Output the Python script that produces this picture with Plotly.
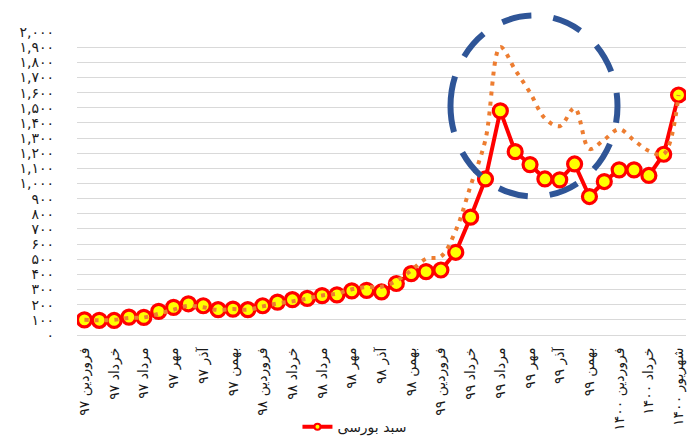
import plotly.graph_objects as go

# ---------------- data ----------------
categories = [
    "فروردین ۹۷", "اردیبهشت ۹۷", "خرداد ۹۷", "تیر ۹۷", "مرداد ۹۷", "شهریور ۹۷",
    "مهر ۹۷", "آبان ۹۷", "آذر ۹۷", "دی ۹۷", "بهمن ۹۷", "اسفند ۹۷",
    "فروردین ۹۸", "اردیبهشت ۹۸", "خرداد ۹۸", "تیر ۹۸", "مرداد ۹۸", "شهریور ۹۸",
    "مهر ۹۸", "آبان ۹۸", "آذر ۹۸", "دی ۹۸", "بهمن ۹۸", "اسفند ۹۸",
    "فروردین ۹۹", "اردیبهشت ۹۹", "خرداد ۹۹", "تیر ۹۹", "مرداد ۹۹", "شهریور ۹۹",
    "مهر ۹۹", "آبان ۹۹", "آذر ۹۹", "دی ۹۹", "بهمن ۹۹", "اسفند ۹۹",
    "فروردین ۱۴۰۰", "اردیبهشت ۱۴۰۰", "خرداد ۱۴۰۰", "مرداد ۱۴۰۰", "شهریور ۱۴۰۰",
]

portfolio = [100, 97, 96, 118, 116, 156, 182, 206, 193, 167, 171, 167,
             193, 217, 233, 242, 260, 265, 291, 295, 284, 340, 405, 418,
             429, 546, 778, 1030, 1479, 1210, 1125, 1030, 1024, 1129, 914, 1013,
             1090, 1090, 1053, 1193, 1584]

benchmark = [100, 97, 100, 112, 116, 140, 167, 192, 183, 165, 171, 167,
             189, 208, 222, 240, 261, 273, 302, 316, 318, 358, 426, 503,
             518, 690, 985, 1290, 1900, 1750, 1600, 1430, 1378, 1498, 1228, 1290,
             1358, 1285, 1215, 1195, 1584]

series_name = "سبد بورسی"

y_tickvals = list(range(0, 2001, 100))
y_ticktext = ["۰", "۱۰۰", "۲۰۰", "۳۰۰", "۴۰۰", "۵۰۰", "۶۰۰", "۷۰۰", "۸۰۰", "۹۰۰",
              "۱,۰۰۰", "۱,۱۰۰", "۱,۲۰۰", "۱,۳۰۰", "۱,۴۰۰", "۱,۵۰۰", "۱,۶۰۰",
              "۱,۷۰۰", "۱,۸۰۰", "۱,۹۰۰", "۲,۰۰۰"]

x_tickvals = categories[::2]

# ---------------- figure ----------------
W, H = 696, 443
ML, MR, MT, MB = 77, 10, 32, 108

fig = go.Figure()

fig.add_trace(go.Scatter(
    x=categories, y=portfolio, name=series_name, mode="lines+markers",
    line=dict(color="#FF0000", width=4),
    marker=dict(size=14, color="#FFFF00", line=dict(color="#FF0000", width=3.2)),
    showlegend=False,
))

fig.add_trace(go.Scatter(
    x=categories, y=benchmark, mode="lines",
    line=dict(color="#ED7D31", width=4, dash="4px,6px", shape="spline", smoothing=1),
    showlegend=False, hoverinfo="skip",
))

# legend entry (small symbol like the original legend)
fig.add_trace(go.Scatter(
    x=[None], y=[None], name=series_name, mode="lines+markers",
    line=dict(color="#FF0000", width=4),
    marker=dict(size=6, color="#FFFF00", line=dict(color="#FF0000", width=2)),
    showlegend=True,
))

# dashed ellipse highlight (annotation), built in paper coordinates
pw, ph = W - ML - MR, H - MT - MB
def px2paper(px, py):
    return (px - ML) / pw, (H - MB - py) / ph

cx, cy, rx, ry = 534, 106, 83.5, 90.5
k = 0.5523
pts = [
    (cx - rx, cy),
    (cx - rx, cy - k * ry), (cx - k * rx, cy - ry), (cx, cy - ry),
    (cx + k * rx, cy - ry), (cx + rx, cy - k * ry), (cx + rx, cy),
    (cx + rx, cy + k * ry), (cx + k * rx, cy + ry), (cx, cy + ry),
    (cx - k * rx, cy + ry), (cx - rx, cy + k * ry), (cx - rx, cy),
]
pp = [px2paper(*p) for p in pts]
path = "M {:.5f},{:.5f}".format(*pp[0])
for i in range(1, len(pp), 3):
    path += " C {:.5f},{:.5f} {:.5f},{:.5f} {:.5f},{:.5f}".format(*pp[i], *pp[i + 1], *pp[i + 2])

fig.add_shape(type="path", path=path, xref="paper", yref="paper",
              line=dict(color="#2F5597", width=6, dash="30px,22px"), layer="above")

fig.update_layout(
    width=W, height=H, autosize=False,
    margin=dict(l=ML, r=MR, t=MT, b=MB),
    paper_bgcolor="white", plot_bgcolor="white",
    font=dict(family="DejaVu Sans", color="#1a1a1a", size=14),
    legend=dict(orientation="h", xref="container", yref="container",
                x=0.51, xanchor="center", y=0.036, yanchor="middle",
                font=dict(size=14, color="#1a1a1a"), itemsizing="trace"),
    xaxis=dict(type="category", range=[-0.5, len(categories) - 0.5],
               tickmode="array", tickvals=x_tickvals, ticktext=x_tickvals,
               tickangle=-90, showgrid=False, showline=True, linecolor="#D9D9D9",
               linewidth=1, ticks="", automargin=False, ticklabelstandoff=6,
               tickfont=dict(size=14)),
    yaxis=dict(range=[0, 2000], tickmode="array", tickvals=y_tickvals, ticktext=y_ticktext,
               showgrid=True, gridcolor="#D9D9D9", gridwidth=1, zeroline=False,
               showline=False, ticks="", automargin=False, ticklabelstandoff=22,
               tickfont=dict(size=14)),
)

fig.write_html("out.html")
